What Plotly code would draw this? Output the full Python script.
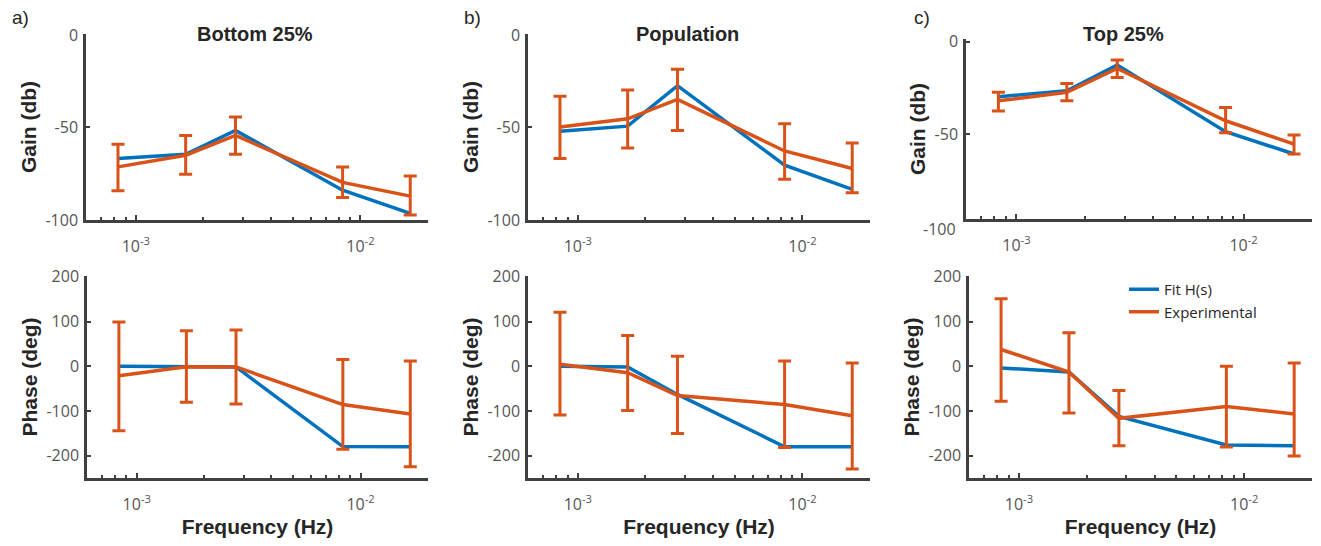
import plotly.graph_objects as go

# ---------------- data ----------------
freq = [0.000833, 0.001667, 0.002778, 0.008333, 0.016667]

panel_titles = ["Bottom 25%", "Population", "Top 25%"]
panel_letters = ["a)", "b)", "c)"]

# Gain (dB)
gain_fit_bottom = [-66.8, -64.5, -51.6, -83.9, -96.4]
gain_exp_bottom = [-71.3, -65.0, -54.3, -79.7, -87.1]
gain_up_bottom = [12.2, 10.7, 9.9, 8.4, 10.9]
gain_dn_bottom = [12.9, 10.3, 10.2, 8.1, 10.2]

gain_fit_pop = [-52.0, -49.3, -27.4, -70.4, -83.5]
gain_exp_pop = [-49.8, -45.3, -34.8, -62.7, -72.2]
gain_up_pop = [16.6, 15.6, 16.3, 14.7, 13.8]
gain_dn_pop = [17.0, 15.8, 16.8, 15.3, 13.1]

gain_fit_top = [-29.8, -26.5, -12.6, -48.7, -60.8]
gain_exp_top = [-32.0, -27.4, -14.4, -42.8, -55.4]
gain_up_top = [4.6, 4.8, 4.5, 7.2, 4.9]
gain_dn_top = [5.5, 4.6, 4.9, 6.5, 5.4]

# Phase (deg)
phase_fit_bottom = [0.0, 0.0, -1.5, -179.6, -180.0]
phase_exp_bottom = [-21.0, -1.0, -1.5, -85.7, -106.7]
phase_up_bottom = [120.2, 80.7, 82.7, 100.7, 118.7]
phase_dn_bottom = [123.3, 79.4, 82.7, 99.9, 118.0]

phase_fit_pop = [0.0, -1.5, -63.0, -180.0, -180.0]
phase_exp_pop = [4.5, -14.3, -65.4, -85.7, -110.5]
phase_up_pop = [116.5, 83.4, 87.9, 97.7, 118.0]
phase_dn_pop = [113.5, 84.9, 84.9, 96.2, 119.5]

phase_fit_top = [-3.8, -12.8, -112.0, -176.0, -178.0]
phase_exp_top = [37.6, -12.8, -116.5, -90.2, -106.7]
phase_up_top = [113.4, 88.0, 62.5, 90.2, 114.2]
phase_dn_top = [115.8, 91.7, 61.5, 90.2, 94.0]

x_major = [0.001, 0.01]
x_major_text = ["10<sup>-3</sup>", "10<sup>-2</sup>"]
gain_ticks = [-100, -50, 0]
phase_ticks = [-200, -100, 0, 100, 200]

legend_names = ["Fit H(s)", "Experimental"]

# ---------------- styling ----------------
VW, VH = 1321, 546          # browser window
OFF = 8                     # default page body margin
W, H = VW - 2 * OFF, VH - 2 * OFF
BLUE = "#0072BD"
ORANGE = "#D95319"
AXC = "#404040"
TICKFONT = dict(family="Open Sans, Noto Sans, sans-serif", size=16, color="#555555")
TITLEFONT = dict(family="Liberation Sans, Arial, sans-serif", size=20, color="#262626", weight="bold")
AXTITLEFONT = dict(family="Liberation Sans, Arial, sans-serif", size=21, color="#262626", weight="bold")


def fx(px):
    return (px - OFF) / W


def fy(py):
    return 1 - (py - OFF) / H


gain_panels = [
    (gain_fit_bottom, gain_exp_bottom, gain_up_bottom, gain_dn_bottom),
    (gain_fit_pop, gain_exp_pop, gain_up_pop, gain_dn_pop),
    (gain_fit_top, gain_exp_top, gain_up_top, gain_dn_top),
]
phase_panels = [
    (phase_fit_bottom, phase_exp_bottom, phase_up_bottom, phase_dn_bottom),
    (phase_fit_pop, phase_exp_pop, phase_up_pop, phase_dn_pop),
    (phase_fit_top, phase_exp_top, phase_up_top, phase_dn_top),
]

# pixel boxes in the window (left, right, top, bottom)
boxes_top = [(86, 428, 34, 220), (528, 870, 34, 220), (966, 1312, 39, 219)]
boxes_bot = [(87, 428, 276, 478), (528, 870, 276, 478), (969, 1312, 276, 478)]
gain_ranges = [[-100, 0.5], [-100, 0.5], [-96, 1.5]]
phase_range = [-250, 202]
xrange_log = [-3.2218, -1.699]

fig = go.Figure()
layout = dict(
    width=W, height=H,
    margin=dict(l=0, r=0, t=0, b=0, pad=0, autoexpand=False),
    paper_bgcolor="white", plot_bgcolor="white",
    showlegend=True,
    legend=dict(x=fx(1124), y=fy(273), xanchor="left", yanchor="top",
                bgcolor="rgba(0,0,0,0)", borderwidth=0,
                font=dict(family="Open Sans, Noto Sans, sans-serif", size=15, color="#262626"),
                itemwidth=30, tracegroupgap=0),
)


def xaxis_def(box, with_title, anchor):
    l, r, t, b = box
    d = dict(
        type="log", domain=[fx(l), fx(r)], range=xrange_log, anchor=anchor,
        automargin=False,
        showline=True, linecolor=AXC, linewidth=2.5, showgrid=False, zeroline=False,
        ticks="inside", ticklen=5, tickwidth=2, tickcolor=AXC,
        tickmode="array", tickvals=x_major, ticktext=x_major_text,
        tickfont=TICKFONT, ticklabelstandoff=10,
        minor=dict(ticks="inside", ticklen=3, tickwidth=2, tickcolor=AXC,
                   dtick="D1", showgrid=False),
    )
    if with_title:
        d["title"] = dict(text="Frequency (Hz)", font=AXTITLEFONT, standoff=13)
    return d


def yaxis_def(box, rng, ticks, title, anchor):
    l, r, t, b = box
    return dict(
        domain=[fy(b), fy(t)], range=rng, anchor=anchor, automargin=False,
        showline=True, linecolor=AXC, linewidth=2.5, showgrid=False, zeroline=False,
        ticks="inside", ticklen=4, tickwidth=2, tickcolor=AXC,
        tickmode="array", tickvals=ticks, ticktext=[str(v) for v in ticks],
        tickfont=TICKFONT, ticklabelstandoff=2,
        title=dict(text=title, font=AXTITLEFONT, standoff=4),
    )


annotations = []
for i in range(3):
    for row, (panels, boxes) in enumerate([(gain_panels, boxes_top), (phase_panels, boxes_bot)]):
        k = i + 1 + 3 * row
        xa = "x" if k == 1 else f"x{k}"
        ya = "y" if k == 1 else f"y{k}"
        fit, exp, up, dn = panels[i]
        show = (row == 1 and i == 2)
        fig.add_trace(go.Scatter(
            x=freq, y=fit, mode="lines", name=legend_names[0],
            line=dict(color=BLUE, width=3.5), xaxis=xa, yaxis=ya,
            showlegend=show, legendgroup="fit", cliponaxis=False))
        fig.add_trace(go.Scatter(
            x=freq, y=exp, mode="lines", name=legend_names[1],
            line=dict(color=ORANGE, width=3.5), xaxis=xa, yaxis=ya,
            error_y=dict(type="data", array=up, arrayminus=dn, symmetric=False,
                         color=ORANGE, thickness=3, width=6.5),
            showlegend=show, legendgroup="exp", cliponaxis=False))
        box = boxes[i]
        xkey = "xaxis" if k == 1 else f"xaxis{k}"
        ykey = "yaxis" if k == 1 else f"yaxis{k}"
        layout[xkey] = xaxis_def(box, row == 1, ya)
        if row == 0:
            layout[ykey] = yaxis_def(box, gain_ranges[i], gain_ticks, "Gain (db)", xa)
        else:
            layout[ykey] = yaxis_def(box, phase_range, phase_ticks, "Phase (deg)", xa)

    cx = [255, 688, 1123][i]
    annotations.append(dict(
        text=panel_titles[i], xref="paper", yref="paper", x=fx(cx), y=fy(34),
        xanchor="center", yanchor="middle", showarrow=False, font=TITLEFONT))
    lx = [10, 462, 912][i]
    annotations.append(dict(
        text=panel_letters[i], xref="paper", yref="paper", x=fx(lx), y=fy(18),
        xanchor="left", yanchor="middle", showarrow=False,
        font=dict(family="Liberation Sans, Arial, sans-serif", size=19, color="#262626")))

# the "-100" label of the Top 25% gain panel sits below its shortened axis
lo, hi = gain_ranges[2]
annotations.append(dict(
    text=str(gain_ticks[0]), xref="x3 domain", yref="y3 domain",
    x=0, y=(gain_ticks[0] - lo) / (hi - lo),
    xanchor="right", yanchor="middle", xshift=-8, yshift=-3, showarrow=False, font=TICKFONT))

layout["annotations"] = annotations
fig.update_layout(**layout)
fig.write_html("out.html")
